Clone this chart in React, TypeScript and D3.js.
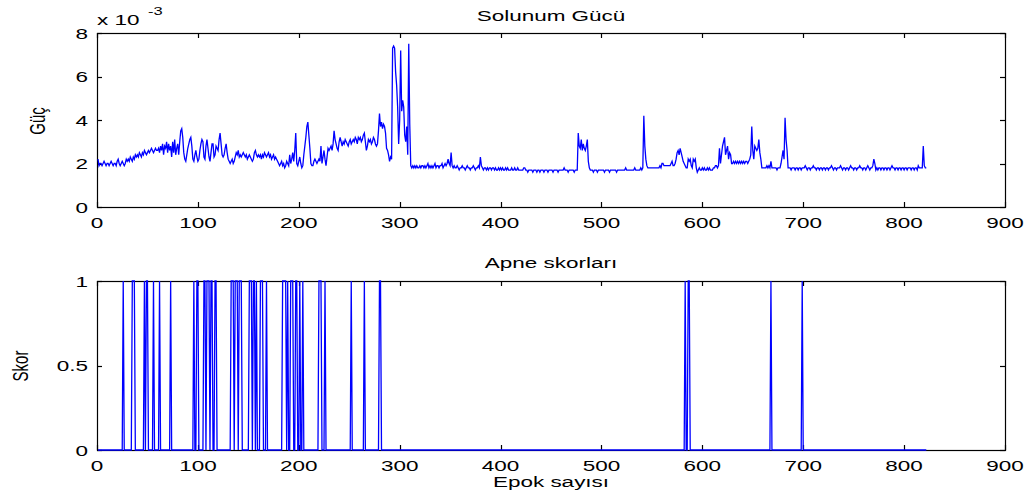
import React, { useRef, useEffect } from 'react';
import * as d3 from 'd3';

// Solunum gücü, epok başına (x 1e-4)
const powerE4 = [
  22,19,20,20,19,20,21,20,19,20, 20,19,20,21,20,19,20,20,19,21,
  22,20,19,20,21,20,19,20,22,21, 22,21,23,22,21,23,22,24,23,24,
  23,25,24,23,25,24,26,25,24,25, 26,25,26,27,26,25,26,27,26,26,
  27,25,28,26,29,24,28,27,30,25, 29,26,28,23,30,25,31,24,27,29,
  24,30,35,36,32,25,22,21,24,27, 29,31,32,28,22,21,24,26,23,21,
  22,26,29,31,30,23,22,28,31,27, 23,21,25,29,29,23,24,28,27,26,
  31,34,29,24,23,24,27,29,25,22, 21,20,21,22,20,21,23,25,24,26,
  23,24,23,24,25,24,23,24,22,23, 24,23,22,21,22,25,26,24,23,24,
  23,24,22,24,23,25,24,23,24,25, 23,24,22,23,24,22,23,22,21,20,
  19,20,21,19,20,18,19,21,20,19, 24,20,22,25,21,26,34,20,19,21,
  23,20,18,19,24,28,32,37,39,33, 27,20,19,19,21,22,21,20,21,22,
  21,28,20,23,26,22,19,23,27,26, 27,28,26,29,35,31,29,27,26,30,
  32,30,28,30,29,31,30,29,28,30, 31,29,30,31,30,32,31,29,32,31,
  32,30,31,33,34,30,26,28,31,30, 31,29,30,32,31,29,28,29,35,43,
  37,39,36,38,37,34,27,26,24,21, 23,22,73,74,73,62,56,46,29,40,
  72,44,49,46,33,30,37,24,75,38, 19,18,19,18,19,18,19,18,18,19,
  18,19,19,18,19,18,19,20,18,19, 18,19,18,19,20,18,19,19,18,19,
  19,20,18,19,20,19,20,22,20,19, 25,19,18,19,18,18,19,18,17,18,
  18,19,18,18,17,18,19,18,18,17, 18,18,19,18,17,18,18,19,18,23,
  19,18,17,18,18,17,18,17,18,18, 17,18,18,17,18,17,17,18,17,18,
  17,18,17,17,18,17,18,17,17,17, 18,17,17,18,17,17,18,17,17,17,
  17,17,18,18,17,17,16,17,17,17, 17,16,17,17,17,16,17,17,16,17,
  17,17,16,17,17,17,16,17,17,17, 17,16,17,17,17,17,16,17,17,17,
  17,17,18,17,17,17,16,17,17,17, 17,17,16,17,17,17,34,28,27,31,
  26,29,27,26,28,31,21,18,17,17, 17,16,17,17,17,16,17,17,17,17,
  17,17,16,17,17,17,17,16,17,17, 17,17,17,17,16,17,17,17,17,17,
  17,17,17,18,17,17,17,17,17,17, 17,17,18,17,17,17,17,17,18,17,
  18,42,28,22,19,18,18,18,18,18, 18,18,18,18,18,18,18,19,18,20,
  20,19,19,19,19,19,19,19,20,21, 19,19,20,22,25,26,24,27,25,23,
  21,20,19,18,18,22,21,22,19,18, 22,21,22,18,16,17,18,17,17,18,
  17,18,17,17,18,17,18,17,17,17, 18,18,19,19,18,19,27,20,24,28,
  30,32,24,26,28,22,25,24,20,20, 21,20,21,20,21,20,21,20,21,20,
  21,20,21,21,20,21,22,24,37,26, 22,28,27,26,27,31,25,22,18,18,
  18,18,18,19,18,19,18,21,18,18, 18,18,18,17,18,18,18,20,23,26,
  22,41,31,26,18,18,18,17,18,18, 18,17,18,18,17,18,18,17,18,18,
  18,19,18,17,18,18,17,18,18,19, 18,18,17,18,18,17,18,18,17,18,
  18,17,18,18,17,18,18,19,18,17, 18,18,17,18,18,18,19,18,17,18,
  18,17,18,18,17,18,19,18,18,17, 18,18,17,18,18,19,18,18,17,18,
  18,17,18,19,18,17,18,18,19,22, 20,17,18,17,18,18,17,18,18,17,
  18,18,17,18,18,17,18,19,18,18, 17,18,18,17,18,18,17,18,18,17,
  18,18,17,18,18,18,17,18,18,17, 18,18,17,19,18,18,18,18,28,19,
  18,18
];

// apne skoru 1 olan epok aralıkları [başlangıç, bitiş]
const apneRuns = [
  [26,26],[35,37],[47,47],[49,50],[56,56],[62,62],[73,73],[96,96],[99,100],
  [106,107],[109,111],[113,114],[117,118],[133,135],[137,139],[141,143],
  [151,153],[155,156],[158,158],[162,164],[168,168],[184,187],[189,189],
  [192,194],[197,198],[201,201],[204,204],[220,222],[226,226],[252,252],
  [265,265],[280,281],[583,583],[586,587],[668,668],[699,699]
];

const epochTicks = [0,100,200,300,400,500,600,700,800,900];
const powerTicks = [0,0.002,0.004,0.006,0.008];
const scoreTicks = [0,0.5,1];

const width = 1035, height = 502;
const FONT = '"Liberation Sans", Arial, Helvetica, sans-serif';
const SX = 1.5; // yatay gerilmiş yazı

export default function App() {
    const chartRef = useRef<SVGSVGElement>(null);

    useEffect(() => {
        const svg = d3.select(chartRef.current);
        svg.selectAll('*').remove();

        const left = 97, right = 1005;
        const epochs = powerE4.map((_, i) => i + 1);
        const power = powerE4.map(v => v * 1e-4);
        const scores = epochs.map(e => apneRuns.some(([a, b]) => e >= a && e <= b) ? 1 : 0);

        const xScale = d3.scaleLinear().domain([0, 900]).range([left, right]);
        const yPower = d3.scaleLinear().domain([0, 0.008]).range([207, 33]);
        const yScore = d3.scaleLinear().domain([0, 1]).range([450, 281]);

        const text = (x: number, y: number, str: string, anchor: string, size = 15, rotate = false) =>
            svg.append('text')
                .attr('transform', `translate(${x},${y}) scale(${SX},1)` + (rotate ? ' rotate(-90)' : ''))
                .attr('text-anchor', anchor)
                .style('font-family', FONT)
                .style('font-size', size + 'px')
                .attr('fill', '#000')
                .text(str);

        const frame = (yScale: d3.ScaleLinear<number, number>, yTicks: number[], fmt: (v: number) => string) => {
            const [y0, y1] = yScale.range();
            const g = svg.append('g').attr('stroke', '#000').attr('stroke-width', 1.2).attr('fill', 'none');
            g.append('rect').attr('x', left + 0.5).attr('y', y1 + 0.5)
                .attr('width', right - left).attr('height', y0 - y1);
            epochTicks.forEach(t => {
                const x = Math.round(xScale(t)) + 0.5;
                g.append('line').attr('x1', x).attr('x2', x).attr('y1', y0).attr('y2', y0 - 5);
                g.append('line').attr('x1', x).attr('x2', x).attr('y1', y1).attr('y2', y1 + 5);
                text(xScale(t), y0 + 21, String(t), 'middle');
            });
            yTicks.forEach(t => {
                const y = Math.round(yScale(t)) + 0.5;
                g.append('line').attr('x1', left).attr('x2', left + 5).attr('y1', y).attr('y2', y);
                g.append('line').attr('x1', right).attr('x2', right - 5).attr('y1', y).attr('y2', y);
                text(left - 9, yScale(t) + 5.5, fmt(t), 'end');
            });
        };

        // üst: Solunum Gücü
        frame(yPower, powerTicks, v => String(Math.round(v * 1000)));
        const lineP = d3.line<number>().x((_, i) => xScale(epochs[i])).y(d => yPower(d));
        svg.append('path').datum(power).attr('d', lineP)
            .attr('fill', 'none').attr('stroke', '#0000ff').attr('stroke-width', 1.3);
        text(551, 21, 'Solunum Gücü', 'middle');
        text(45, 121, 'Güç', 'middle', 15, true);
        text(97, 25, 'x 10', 'start');
        text(148, 15, '-3', 'start', 11);

        // alt: Apne skorları
        frame(yScore, scoreTicks, v => String(v));
        const lineS = d3.line<number>().x((_, i) => xScale(epochs[i])).y(d => yScore(d));
        svg.append('path').datum(scores).attr('d', lineS)
            .attr('fill', 'none').attr('stroke', '#0000ff').attr('stroke-width', 1.3);
        text(551, 268, 'Apne skorları', 'middle');
        text(28, 366, 'Skor', 'middle', 15, true);
        text(551, 487, 'Epok sayısı', 'middle');
    }, []);

    return (
        <svg ref={chartRef} width={width} height={height}
            style={{ position: 'absolute', left: 0, top: 0, background: '#fff' }} />
    );
}
